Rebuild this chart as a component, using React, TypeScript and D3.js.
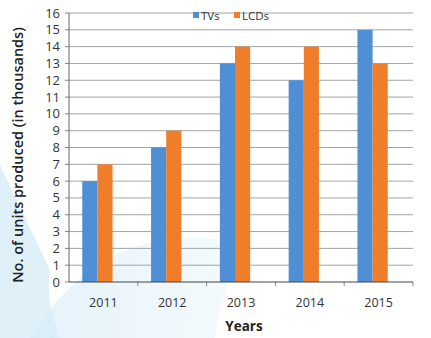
import React from "react";
import * as d3 from "d3";

const years = ["2011", "2012", "2013", "2014", "2015"];
const tvs = [6, 8, 13, 12, 15];
const lcds = [7, 9, 14, 14, 13];
const seriesNames = ["TVs", "LCDs"];
const yTicks = d3.range(0, 17);

const W = 431, H = 338;
const M = { left: 69, right: 18, top: 13, bottom: 56 };

export default function App() {
  const outer = d3.scaleBand().domain(years).range([M.left, W - M.right]);
  const x = d3.scaleBand().domain(years).range([M.left - 6, W - M.right - 6]).paddingInner(0.56).paddingOuter(0.28);
  const y = d3.scaleLinear().domain([0, 16]).range([H - M.bottom, M.top]);
  const sub = d3.scaleBand().domain(seriesNames).range([0, x.bandwidth()]);
  const colors = ["#4f8fd6", "#ef7d2a"];
  const data = [tvs, lcds];
  const font = "'Open Sans', 'DejaVu Sans', sans-serif";
  return (
    <svg width={W} height={H} style={{ position: "absolute", left: 0, top: 0, background: "#fff" }}>
      <defs>
        <linearGradient id="wm" x1="0" y1="0" x2="1" y2="0">
          <stop offset="0" stopColor="#d6ecf8" stopOpacity="0.9" />
          <stop offset="1" stopColor="#e9f5fb" stopOpacity="0.6" />
        </linearGradient>
      </defs>
      <path d={`M0,165 L0,338 L60,338 Q45,300 50,270 Z`} fill="#dff0f9" />
      <path d={`M30,338 Q110,210 250,245 Q220,290 215,338 Z`} fill="url(#wm)" opacity="0.75" />
      {yTicks.map((t) => (
        <g key={t}>
          {t > 0 && <line x1={M.left} x2={W - M.right} y1={y(t)} y2={y(t)} stroke="#a0a4a8" strokeWidth={1} />}
          <line x1={M.left - 4} x2={M.left} y1={y(t)} y2={y(t)} stroke="#888" />
          <text x={M.left - 9} y={y(t)} dy="0.35em" textAnchor="end" fontFamily={font} fontSize={13} fill="#333">{t}</text>
        </g>
      ))}
      {years.map((yr, i) => (
        <g key={yr}>
          {seriesNames.map((s, j) => (
            <rect key={s} x={(x(yr) as number) + (sub(s) as number)} width={sub.bandwidth()} y={y(data[j][i])} height={y(0) - y(data[j][i])} fill={colors[j]} />
          ))}
          <text x={(outer(yr) as number) + outer.bandwidth() / 2} y={H - M.bottom + 25} textAnchor="middle" fontFamily={font} fontSize={12.5} fill="#333">{yr}</text>
          <line x1={(outer(yr) as number) + outer.bandwidth()} x2={(outer(yr) as number) + outer.bandwidth()} y1={y(0)} y2={y(0) + 4} stroke="#888" />
        </g>
      ))}
      <line x1={M.left} x2={M.left} y1={M.top} y2={y(0)} stroke="#666" />
      <line x1={M.left} x2={W - M.right} y1={y(0)} y2={y(0)} stroke="#444" strokeWidth={1.2} />
      <text x={244} y={331} textAnchor="middle" fontFamily={font} fontSize={13.5} fontWeight="bold" fill="#222">Years</text>
      <text transform={`translate(23, 155) rotate(-90)`} textAnchor="middle" fontFamily={font} fontSize={14.5} fontWeight={600} fill="#222">No. of units produced (in thousands)</text>
      {seriesNames.map((s, j) => (
        <g key={s} transform={`translate(${193 + j * 41}, 16)`}>
          <rect x={0} y={-4} width={6} height={6} fill={colors[j]} />
          <text x={8} y={0} dy="0.35em" fontFamily={font} fontSize={11.5} fill="#333">{s}</text>
        </g>
      ))}
    </svg>
  );
}
